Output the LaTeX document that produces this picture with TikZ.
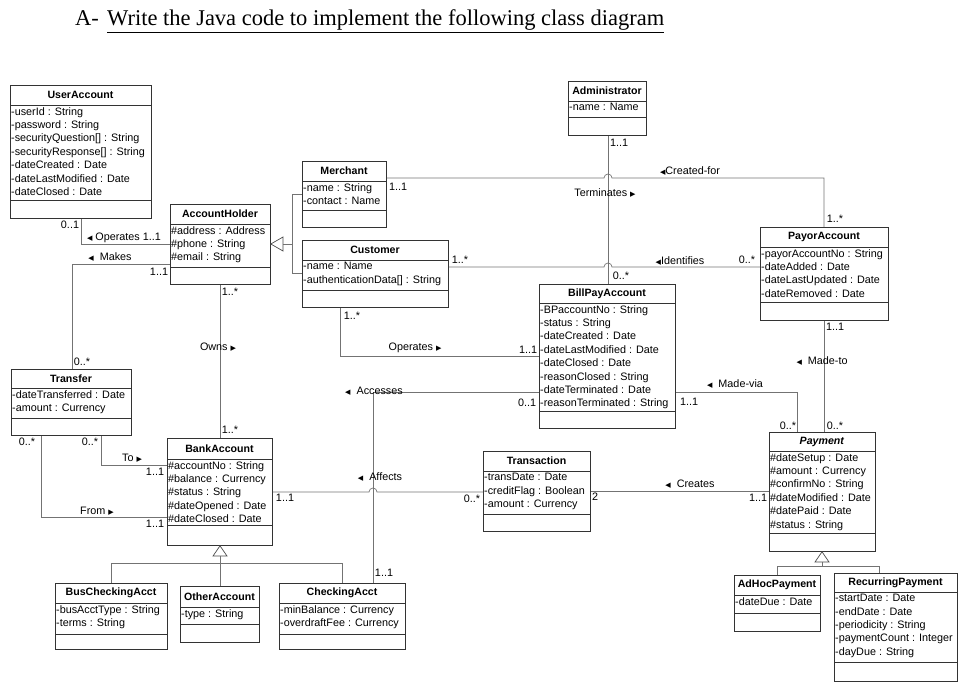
\documentclass[tikz,border=0pt]{standalone}
\usepackage{fontspec}
\setmainfont{Liberation Sans}
\newfontfamily\titlefont{Liberation Serif}
\newfontfamily\dvs{DejaVu Sans}
\newcommand{\rtri}{{\dvs\fontsize{7}{7}\selectfont ▶}}
\newcommand{\ltri}{{\dvs\fontsize{7}{7}\selectfont ◀}}
\newcommand{\umlclass}[9]{%
  \node[box, minimum width={(#4-#2)*1pt}, minimum height={(#5-#3)*1pt}] (#1) at (#2,#3) {};
  \draw[boxline] (#2,#6) -- (#4,#6);
  \draw[boxline] (#2,#7) -- (#4,#7);
  \node[ctitle] at ({(#2+#4)/2},{(#3+#6)/2}) {#8};
  \node[attrs] at ({#2+1},{#6+2}) {#9};
}
\begin{document}
\begin{tikzpicture}[x=1pt,y=-1pt,
  box/.style={draw=black!80, line width=0.8pt, anchor=north west, inner sep=0pt, fill=white},
  boxline/.style={draw=black!80, line width=0.8pt},
  ctitle/.style={font=\fontsize{10.6}{12}\selectfont\bfseries, inner sep=0pt},
  attrs/.style={font=\fontsize{10.8}{13.4}\selectfont, anchor=north west, align=left, inner sep=0pt},
  conn/.style={draw=black!55, line width=0.7pt},
  lbl/.style={font=\fontsize{10.8}{12}\selectfont, inner sep=0pt},
  gen/.style={draw=black!70, line width=0.7pt, fill=white}]
\useasboundingbox (0,0) rectangle (965,685);
% title
\node[font=\titlefont\fontsize{22.5}{26}\selectfont, anchor=base west, inner sep=0pt] (t1) at (75,26) {A-};
\node[font=\titlefont\fontsize{22.5}{26}\selectfont, anchor=base west, inner sep=0pt] (t2) at (107,26) {\underline{Write the Java code to implement the following class diagram}};

% classes
\umlclass{ua}{10}{85}{151}{218}{105}{200}{UserAccount}{-userId : String\\-password : String\\-securityQuestion[] : String\\-securityResponse[] : String\\-dateCreated : Date\\-dateLastModified : Date\\-dateClosed : Date}
\umlclass{ah}{170}{204}{270}{284}{224}{267}{AccountHolder}{\#address : Address\\\#phone : String\\\#email : String}
\umlclass{me}{302}{161}{386}{227}{181}{210}{Merchant}{-name : String\\-contact : Name}
\umlclass{cu}{302}{240}{448}{307}{260}{290}{Customer}{-name : Name\\-authenticationData[] : String}
\umlclass{ad}{568}{81}{646}{135}{101}{117}{Administrator}{-name : Name}
\umlclass{pa}{760}{227}{888}{320}{247}{302}{PayorAccount}{-payorAccountNo : String\\-dateAdded : Date\\-dateLastUpdated : Date\\-dateRemoved : Date}
\umlclass{bp}{539}{284}{675}{428}{303}{411}{BillPayAccount}{-BPaccountNo : String\\-status : String\\-dateCreated : Date\\-dateLastModified : Date\\-dateClosed : Date\\-reasonClosed : String\\-dateTerminated : Date\\-reasonTerminated : String}
\umlclass{tf}{11}{369}{131}{435}{388}{418}{Transfer}{-dateTransferred : Date\\-amount : Currency}
\umlclass{ba}{167}{438}{272}{545}{459}{525}{BankAccount}{\#accountNo : String\\\#balance : Currency\\\#status : String\\\#dateOpened : Date\\\#dateClosed : Date}
\umlclass{tr}{483}{451}{590}{531}{471}{514}{Transaction}{-transDate : Date\\-creditFlag : Boolean\\-amount : Currency}
\umlclass{py}{769}{432}{875}{551}{451}{533}{\textit{Payment}}{\#dateSetup : Date\\\#amount : Currency\\\#confirmNo : String\\\#dateModified : Date\\\#datePaid : Date\\\#status : String}
\umlclass{bc}{55}{583}{167}{649}{603}{634}{BusCheckingAcct}{-busAcctType : String\\-terms : String}
\umlclass{oa}{180}{586}{259}{642}{607}{624}{OtherAccount}{-type : String}
\umlclass{ck}{279}{583}{405}{649}{603}{634}{CheckingAcct}{-minBalance : Currency\\-overdraftFee : Currency}
\umlclass{ah2}{734}{575}{820}{631}{595}{613}{AdHocPayment}{-dateDue : Date}
\umlclass{rp}{834}{573}{957}{681}{592}{662}{RecurringPayment}{-startDate : Date\\-endDate : Date\\-periodicity : String\\-paymentCount : Integer\\-dayDue : String}

% associations
\draw[conn] (ua.south -| 81,0) |- (ah.west |- 0,244);
\node[lbl] at (70,225) {0..1};
\node[lbl] at (124,238) {\ltri\ Operates 1..1};
\draw[conn] (ah.west |- 0,264) -| (tf.north -| 72,0);
\node[lbl] at (110,257) {\ltri\ \ Makes};
\node[lbl] at (159,272) {1..1};
\node[lbl] at (82,362) {0..*};

\draw[conn] (ah.south -| 220,0) -- (ba.north -| 220,0);
\node[lbl] at (230,292) {1..*};
\node[lbl] at (218,347) {Owns \rtri};
\node[lbl] at (230,430) {1..*};

\draw[conn] (me.east |- 0,178) -- (604,178) arc(180:360:4) -- (824,178) -- (pa.north -| 824,0);
\node[lbl] at (398,187) {1..1};
\node[lbl] at (690,171) {\ltri Created-for};
\node[lbl] at (835,219) {1..*};

\draw[conn] (ad.south -| 608,0) -- (bp.north -| 608,0);
\node[lbl] at (619,143) {1..1};
\node[lbl] at (605,193) {Terminates \rtri};
\node[lbl] at (621,276) {0..*};

\draw[conn] (cu.east |- 0,267) -- (604,267) arc(180:360:4) -- (pa.west |- 0,267);
\node[lbl] at (460,260) {1..*};
\node[lbl] at (680,261) {\ltri Identifies};
\node[lbl] at (747,260) {0..*};

\draw[conn] (cu.south -| 340,0) |- (bp.west |- 0,356);
\node[lbl] at (352,316) {1..*};
\node[lbl] at (415,348) {Operates \rtri};
\node[lbl] at (528,350) {1..1};

\draw[conn] (bp.west |- 0,392) -| (ck.north -| 373,0);
\node[lbl] at (374,391) {\ltri\ \ Accesses};
\node[lbl] at (527,403) {0..1};
\node[lbl] at (384,573) {1..1};

\draw[conn] (ba.east |- 0,492) -- (369,492) arc(180:360:4) -- (tr.west |- 0,492);
\node[lbl] at (380,477) {\ltri\ \ Affects};
\node[lbl] at (285,498) {1..1};
\node[lbl] at (472,499) {0..*};

\draw[conn] (bp.east |- 0,392) -| (py.north -| 797,0);
\node[lbl] at (735,384) {\ltri\ \ Made-via};
\node[lbl] at (689,402) {1..1};
\node[lbl] at (788,426) {0..*};

\draw[conn] (pa.south -| 824,0) -- (py.north -| 824,0);
\node[lbl] at (835,327) {1..1};
\node[lbl] at (822,361) {\ltri\ \ Made-to};
\node[lbl] at (835,426) {0..*};

\draw[conn] (tr.east |- 0,491) -- (py.west |- 0,491);
\node[lbl] at (595,497) {2};
\node[lbl] at (690,484) {\ltri\ \ Creates};
\node[lbl] at (758,498) {1..1};

\draw[conn] (tf.south -| 101,0) |- (ba.west |- 0,465);
\node[lbl] at (90,442) {0..*};
\node[lbl] at (132,458) {To \rtri};
\node[lbl] at (155,472) {1..1};

\draw[conn] (tf.south -| 41,0) |- (ba.west |- 0,517);
\node[lbl] at (27,442) {0..*};
\node[lbl] at (97,511) {From \rtri};
\node[lbl] at (155,524) {1..1};

% generalizations
\draw[conn] (cu.west |- 0,273) -| (292,194) -- (me.west |- 0,194);
\draw[conn] (ah.east |- 0,244) -- (292,244);
\draw[gen] (ah.east |- 0,244) -- (283,237) -- (283,251) -- cycle;

\draw[conn] (bc.north -| 111,0) |- (342,563) -- (ck.north -| 342,0);
\draw[conn] (ba.south -| 220,0) -- (oa.north -| 220,0);
\draw[gen] (ba.south -| 220,0) -- (213,556) -- (227,556) -- cycle;

\draw[conn] (ah2.north -| 777,0) |- (879,566) -- (rp.north -| 879,0);
\draw[conn] (py.south -| 822,0) -- (822,566);
\draw[gen] (py.south -| 822,0) -- (815,562) -- (829,562) -- cycle;
\end{tikzpicture}
\end{document}
